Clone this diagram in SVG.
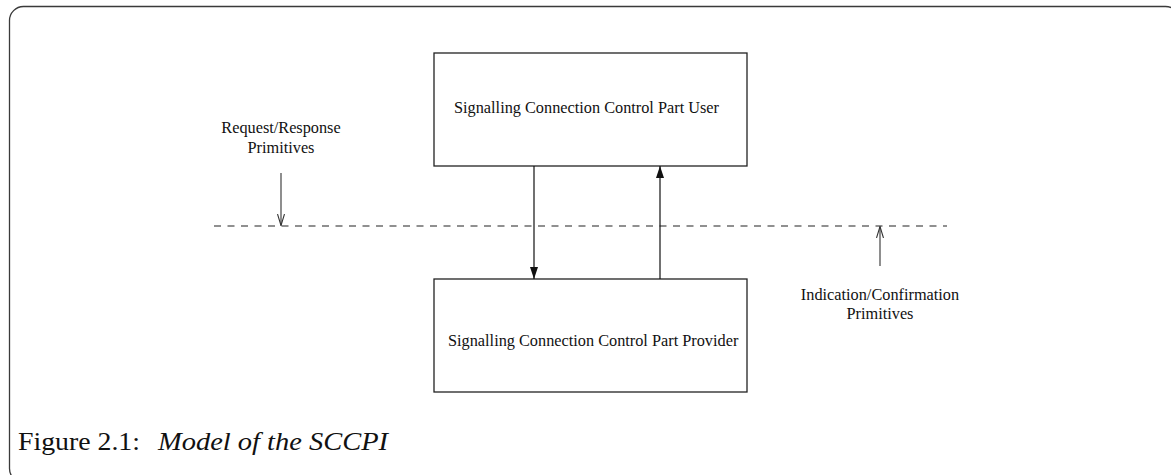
<svg xmlns="http://www.w3.org/2000/svg" width="1171" height="475" viewBox="0 0 1171 475">
  <style>
    .frame { fill: none; stroke: #3a3a3a; stroke-width: 1.3; }
    .box { fill: #ffffff; stroke: #222222; stroke-width: 1.3; }
    .label { font-family: "Liberation Serif", "Times New Roman", serif; font-size: 16.3px; fill: #111111; }
    .mid { text-anchor: middle; }
    .flow { stroke: #111111; stroke-width: 1.2; fill: none; }
    .prim { stroke: #444444; stroke-width: 1.2; fill: none; }
    .boundary { stroke: #222222; stroke-width: 1.1; stroke-dasharray: 7 6.5; fill: none; }
    .caption { font-family: "Liberation Serif", "Times New Roman", serif; font-size: 26px; fill: #111111; }
  </style>
  <defs>
    <marker id="solidHead" viewBox="0 0 12 8" refX="12" refY="4" markerWidth="12" markerHeight="8" markerUnits="userSpaceOnUse" orient="auto">
      <path d="M0,0 L12,4 L0,8 Z" fill="#111111"/>
    </marker>
    <marker id="openHead" viewBox="0 0 12 8" refX="11.5" refY="4" markerWidth="12" markerHeight="8" markerUnits="userSpaceOnUse" orient="auto">
      <path d="M0,0.5 L11.5,4 L0,7.5" fill="none" stroke="#333333" stroke-width="1.1"/>
    </marker>
  </defs>

  <!-- outer frame -->
  <rect class="frame" x="9.5" y="6.5" width="1170" height="476" rx="14" ry="14"/>

  <!-- service boundary -->
  <line class="boundary" x1="214" y1="226" x2="947" y2="226"/>

  <g id="sccp-user">
    <rect class="box" x="434" y="53" width="313" height="113"/>
    <text class="label" x="454" y="113">Signalling Connection Control Part User</text>
  </g>

  <g id="sccp-provider">
    <rect class="box" x="434" y="279" width="313" height="113"/>
    <text class="label" x="448" y="346">Signalling Connection Control Part Provider</text>
  </g>

  <g id="request-response">
    <text class="label mid" x="281" y="133">Request/Response</text>
    <text class="label mid" x="281" y="153">Primitives</text>
  </g>

  <g id="indication-confirmation">
    <text class="label mid" x="880" y="300">Indication/Confirmation</text>
    <text class="label mid" x="880" y="319">Primitives</text>
  </g>

  <g id="connectors">
    <line class="flow" x1="534" y1="166" x2="534" y2="279" marker-end="url(#solidHead)"/>
    <line class="flow" x1="660" y1="279" x2="660" y2="166" marker-end="url(#solidHead)"/>
    <line class="prim" x1="281" y1="173" x2="281" y2="225.5" marker-end="url(#openHead)"/>
    <line class="prim" x1="880" y1="266" x2="880" y2="226.5" marker-end="url(#openHead)"/>
  </g>

  <g id="caption">
    <text class="caption" x="18" y="450" textLength="122" lengthAdjust="spacingAndGlyphs">Figure 2.1:</text>
    <text class="caption" x="158" y="450" font-style="italic" textLength="230" lengthAdjust="spacingAndGlyphs">Model of the SCCPI</text>
  </g>
</svg>
